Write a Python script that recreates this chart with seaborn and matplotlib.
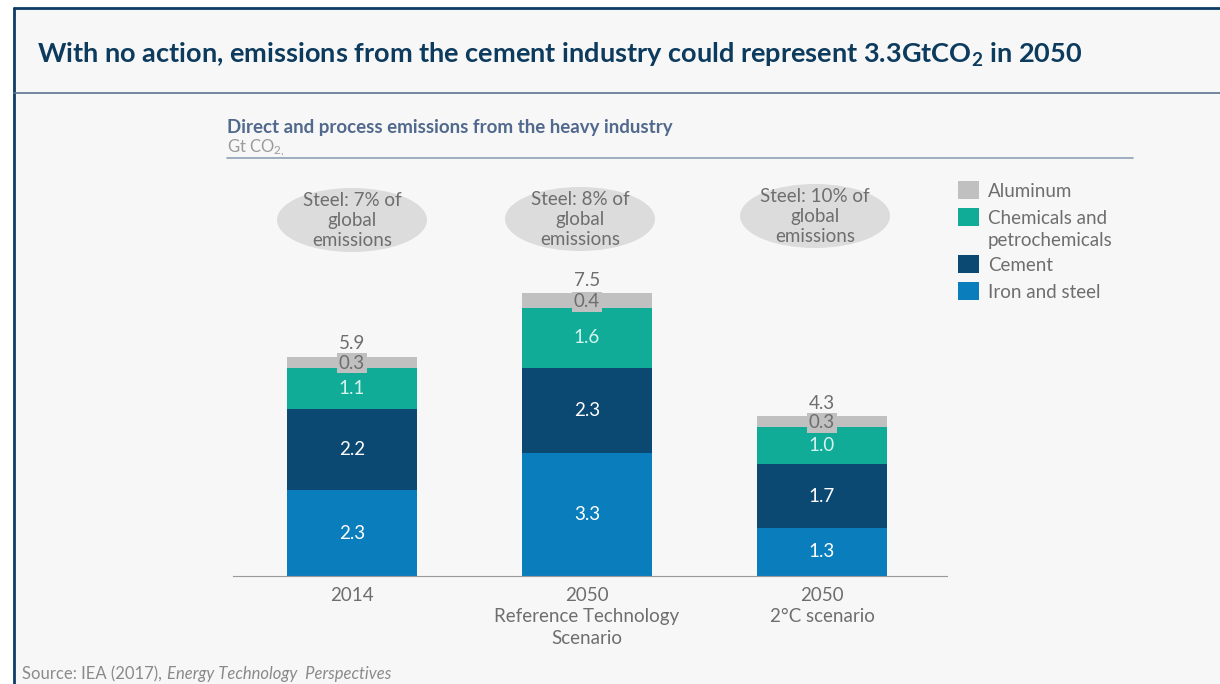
import numpy as np
import matplotlib
matplotlib.use("Agg")
import matplotlib.pyplot as plt
from matplotlib.patches import Ellipse
import seaborn as sns

# data
scenarios = ["2014", "2050\nReference Technology\nScenario", "2050\n2°C scenario"]
iron_steel = [2.3, 3.3, 1.3]
cement = [2.2, 2.3, 1.7]
chemicals = [1.1, 1.6, 1.0]
aluminum = [0.3, 0.4, 0.3]
totals = ["5.9", "7.5", "4.3"]
steel_share = ["Steel: 7% of\nglobal\nemissions", "Steel: 8% of\nglobal\nemissions",
               "Steel: 10% of\nglobal\nemissions"]

series_names = ["Iron and steel", "Cement", "Chemicals and\npetrochemicals", "Aluminum"]
colors = ["#0a7dbd", "#0b4872", "#11ac98", "#c0c0c0"]
label_colors = ["white", "white", "#d4f3ee", "#6e6e6e"]

sns.set_style("white")
plt.rcParams["font.family"] = ["Lato", "DejaVu Sans"]
plt.rcParams["mathtext.default"] = "regular"

bg = "#f7f7f7"
grey_txt = "#6e6e6e"
fs = 13.5

fig = plt.figure(figsize=(12.2, 6.84), dpi=100, facecolor="white")
# panel background + frame
fig.patches.append(plt.Rectangle((14 / 1220, 0), 1, 1 - 8 / 684, transform=fig.transFigure,
                                 facecolor=bg, edgecolor="none", zorder=-5))
fig.add_artist(plt.Line2D([14 / 1220, 14 / 1220], [0, 1 - 8 / 684], color="#0d3d64", lw=2))
fig.add_artist(plt.Line2D([14 / 1220, 1], [1 - 8 / 684, 1 - 8 / 684], color="#0d3d64", lw=2))
fig.add_artist(plt.Line2D([14 / 1220, 1], [1 - 93 / 684, 1 - 93 / 684], color="#5b7590", lw=1.2))

fig.text(37 / 1220, 1 - 55 / 684,
         "With no action, emissions from the cement industry could represent 3.3GtCO$_2$ in 2050",
         fontsize=19.5, fontweight="bold", color="#0d3b5e", va="center", ha="left")

fig.text(227 / 1220, 1 - 127 / 684, "Direct and process emissions from the heavy industry",
         fontsize=13.5, fontweight="bold", color="#51698c", va="center")
fig.text(227 / 1220, 1 - 148 / 684, "Gt CO$_{2,}$", fontsize=12, color="#9a9a9a", va="center")
fig.add_artist(plt.Line2D([227 / 1220, 1133 / 1220], [1 - 158 / 684, 1 - 158 / 684],
                          color="#8ea0b5", lw=1.2))

src = fig.text(22 / 1220, 1 - 674 / 684, "Source: IEA (2017),", fontsize=12, color="#8a8a8a",
               va="center")
fig.canvas.draw()
bb = src.get_window_extent()
fig.text((bb.x1 + 5) / 1220, 1 - 674 / 684, "Energy Technology  Perspectives", fontsize=12,
         color="#8a8a8a", va="center", style="italic")

# chart axes: baseline at y=576, x from 233 to 947
ax = fig.add_axes([233 / 1220, 108 / 684, 714 / 1220, 416 / 684])
ax.set_facecolor("none")

layers = [iron_steel, cement, chemicals, aluminum]
cum = np.cumsum(np.array(layers), axis=0)
for i in range(len(layers) - 1, -1, -1):
    sns.barplot(x=scenarios, y=cum[i], order=scenarios, color=colors[i], width=0.557,
                saturation=1, linewidth=0, ax=ax, zorder=2)

ppu = 37.2
ax.set_ylim(0, 416 / ppu)
ax.set_xlim(-119 / 235, 2 + 125 / 235)

for j in range(len(scenarios)):
    base = 0
    for i, vals in enumerate(layers):
        v = vals[j]
        mid = base + v / 2
        if i == 3:
            ax.text(j, mid - 0.03, f"{v:.1f}", ha="center", va="center", fontsize=fs,
                    color=label_colors[i], zorder=4,
                    bbox=dict(boxstyle="square,pad=0.08", facecolor=colors[i], edgecolor="none"))
        else:
            ax.text(j, mid, f"{v:.1f}", ha="center", va="center", fontsize=fs,
                    color=label_colors[i], zorder=4)
        base += v
    ax.text(j, base + 0.12, totals[j], ha="center", va="bottom", fontsize=fs,
            color=grey_txt, zorder=4)

# steel share ellipses
ell_x = [(352 - 352) / 235, (580 - 352) / 235, (815 - 352) / 235]
ell_y = [(576 - 220) / ppu, (576 - 219) / ppu, (576 - 216) / ppu]
for j in range(len(scenarios)):
    ax.add_patch(Ellipse((ell_x[j], ell_y[j]), 150 / 235, 64 / ppu, facecolor="#dcdcdc",
                         edgecolor="none", zorder=1, clip_on=False))
    ax.text(ell_x[j], ell_y[j] - 0.02, steel_share[j], ha="center", va="center", fontsize=fs,
            color=grey_txt, linespacing=1.22, zorder=3)

sns.despine(ax=ax, left=True)
ax.spines["bottom"].set_color("#9a9a9a")
ax.set_yticks([])
ax.tick_params(axis="x", length=0, labelsize=fs, labelcolor=grey_txt, pad=8)
for t in ax.get_xticklabels():
    t.set_linespacing(1.3)
ax.set_xlabel("")
ax.set_ylabel("")

# legend
leg_x = 958 / 1220
leg_items = [("Aluminum", colors[3], 190), ("Chemicals and\npetrochemicals", colors[2], 217),
             ("Cement", colors[1], 264), ("Iron and steel", colors[0], 291)]
for name, c, y in leg_items:
    fig.patches.append(plt.Rectangle((leg_x, 1 - (y + 9) / 684), 21 / 1220, 18 / 684,
                                     transform=fig.transFigure, facecolor=c, edgecolor="none"))
    for k, line in enumerate(name.split("\n")):
        fig.text(988 / 1220, 1 - (y + 22 * k) / 684, line, fontsize=fs, color=grey_txt,
                 va="center_baseline")

fig.savefig("out.png", dpi=100, facecolor=fig.get_facecolor())
